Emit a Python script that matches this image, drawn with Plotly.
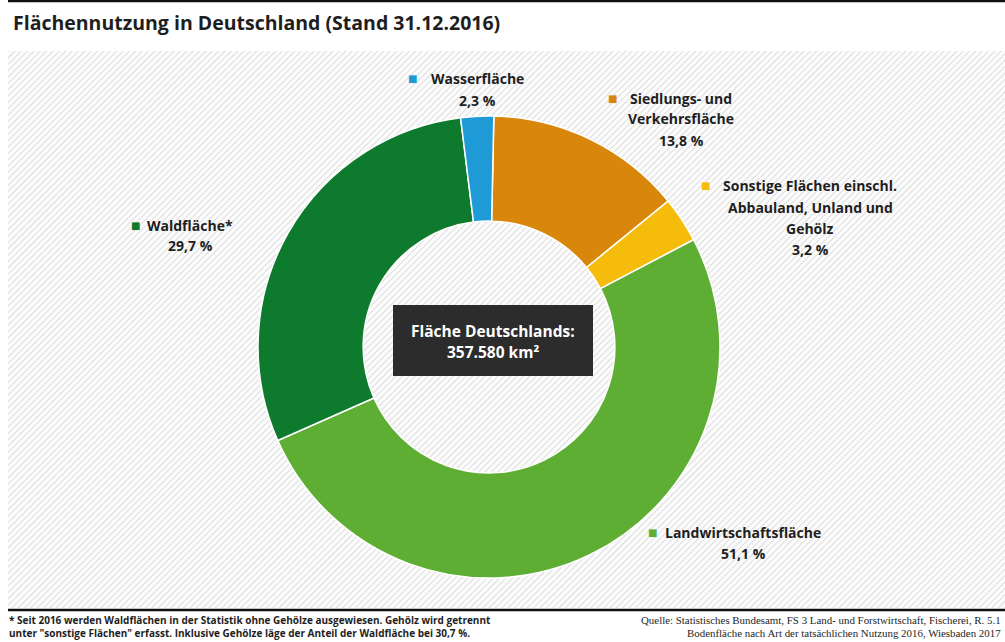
import base64
import plotly.graph_objects as go

# ---------------- data ----------------
categories = [
    "Siedlungs- und<br>Verkehrsfläche",
    "Sonstige Flächen einschl.<br>Abbauland, Unland und<br>Gehölz",
    "Landwirtschaftsfläche",
    "Waldfläche*",
    "Wasserfläche",
]
shares = [13.8, 3.2, 51.1, 29.7, 2.3]
total_area_text = "357.580 km²"
title_text = "Flächennutzung in Deutschland (Stand 31.12.2016)"
footnote_lines = [
    "* Seit 2016 werden Waldflächen in der Statistik ohne Gehölze ausgewiesen. Gehölz wird getrennt",
    "unter \"sonstige Flächen\" erfasst. Inklusive Gehölze läge der Anteil der Waldfläche bei 30,7 %.",
]
source_lines = [
    "Quelle: Statistisches Bundesamt, FS 3 Land- und Forstwirtschaft, Fischerei, R. 5.1",
    "Bodenfläche nach Art der tatsächlichen Nutzung 2016, Wiesbaden 2017",
]

# ---------------- styles ----------------
colors = ["#D9870B", "#F6BC0C", "#5DAE33", "#0D7A2E", "#1E9AD7"]
W, H = 1005, 642
FONT = "Open Sans"
TXT = "#1e1e1e"

# label placement (pixels): bullet x, text centre x, first line y
label_pos = [
    (612, 681, 98),
    (705, 810, 186),
    (652, 743, 532),
    (135, 190, 225),
    (412, 477, 79),
]
LINE = 21


def px(x):
    return x / W


def py(y):
    return 1 - y / H


fig = go.Figure()

# donut
cx, cy, r = 489, 347, 231
fig.add_trace(go.Pie(
    labels=[c.replace("<br>", " ") for c in categories],
    values=shares,
    sort=False,
    direction="clockwise",
    rotation=1.2,
    hole=0.545,
    textinfo="none",
    hoverinfo="label+value",
    showlegend=False,
    marker=dict(colors=colors, line=dict(color="white", width=1.5)),
    domain=dict(x=[px(cx - r), px(cx + r)], y=[py(cy + r), py(cy - r)]),
))

annotations = []
for cat, val, col, (bx, tx, y0) in zip(categories, shares, colors, label_pos):
    lines = cat.split("<br>") + [f"{val:.1f}".replace(".", ",") + " %"]
    annotations.append(dict(
        x=px(bx), y=py(y0), xref="paper", yref="paper", showarrow=False,
        text="■", font=dict(family="DejaVu Sans", size=10, color=col),
        xanchor="center", yanchor="middle"))
    for i, ln in enumerate(lines):
        annotations.append(dict(
            x=px(tx), y=py(y0 + i * LINE), xref="paper", yref="paper", showarrow=False,
            text=ln, font=dict(family=FONT, size=14, color=TXT, weight=700),
            xanchor="center", yanchor="middle"))

# centre box text
for i, ln in enumerate(["Fläche Deutschlands:", total_area_text]):
    annotations.append(dict(
        x=px(493), y=py(331 + i * 21), xref="paper", yref="paper", showarrow=False,
        text=ln, font=dict(family=FONT, size=15.5, color="white", weight=700),
        xanchor="center", yanchor="middle"))

# title
annotations.append(dict(
    x=px(11), y=py(22), xref="paper", yref="paper", showarrow=False,
    text=title_text, font=dict(family=FONT, size=19.5, color=TXT, weight=700),
    xanchor="left", yanchor="middle"))

# footnotes
for i, ln in enumerate(footnote_lines):
    annotations.append(dict(
        x=px(7), y=py(620 + i * 13), xref="paper", yref="paper", showarrow=False,
        text=ln, font=dict(family=FONT, size=10, color=TXT, weight=700),
        xanchor="left", yanchor="middle"))
for i, ln in enumerate(source_lines):
    annotations.append(dict(
        x=px(1003), y=py(620 + i * 13), xref="paper", yref="paper", showarrow=False,
        text=ln, font=dict(family="Liberation Serif", size=10.9, color=TXT),
        xanchor="right", yanchor="middle"))

# hatched background image
hx0, hy0, hx1, hy1 = 8, 51, W, 608
svg = (
    f"<svg xmlns='http://www.w3.org/2000/svg' width='{hx1-hx0}' height='{hy1-hy0}'>"
    "<defs><pattern id='h' width='4.5' height='4.5' patternUnits='userSpaceOnUse' "
    "patternTransform='rotate(45)'><line x1='0' y1='0' x2='0' y2='4.5' "
    "stroke='#d2d2d2' stroke-width='1.4'/></pattern></defs>"
    "<rect width='100%' height='100%' fill='#fbfbfb'/>"
    "<rect width='100%' height='100%' fill='url(#h)'/></svg>"
)
src = "data:image/svg+xml;base64," + base64.b64encode(svg.encode()).decode()

shapes = [
    dict(type="line", xref="paper", yref="paper", x0=px(8), x1=1, y0=py(1), y1=py(1),
         line=dict(color="#111", width=2.5)),
    dict(type="line", xref="paper", yref="paper", x0=px(8), x1=1, y0=py(610), y1=py(610),
         line=dict(color="#111", width=2.5)),
    dict(type="rect", xref="paper", yref="paper", x0=px(393), x1=px(593), y0=py(376), y1=py(305),
         fillcolor="#2c2c2c", line=dict(width=0)),
]

fig.update_layout(
    width=W, height=H,
    margin=dict(l=0, r=0, t=0, b=0),
    paper_bgcolor="white", plot_bgcolor="white",
    annotations=annotations,
    shapes=shapes,
    images=[dict(source=src, xref="paper", yref="paper", x=px(hx0), y=py(hy0),
                 sizex=px(hx1 - hx0), sizey=(hy1 - hy0) / H, sizing="stretch",
                 xanchor="left", yanchor="top", layer="below")],
)

fig.write_html(
    "out.html",
    config={"displayModeBar": False},
    post_script="document.body.style.margin='0';document.body.style.overflow='hidden';",
)
